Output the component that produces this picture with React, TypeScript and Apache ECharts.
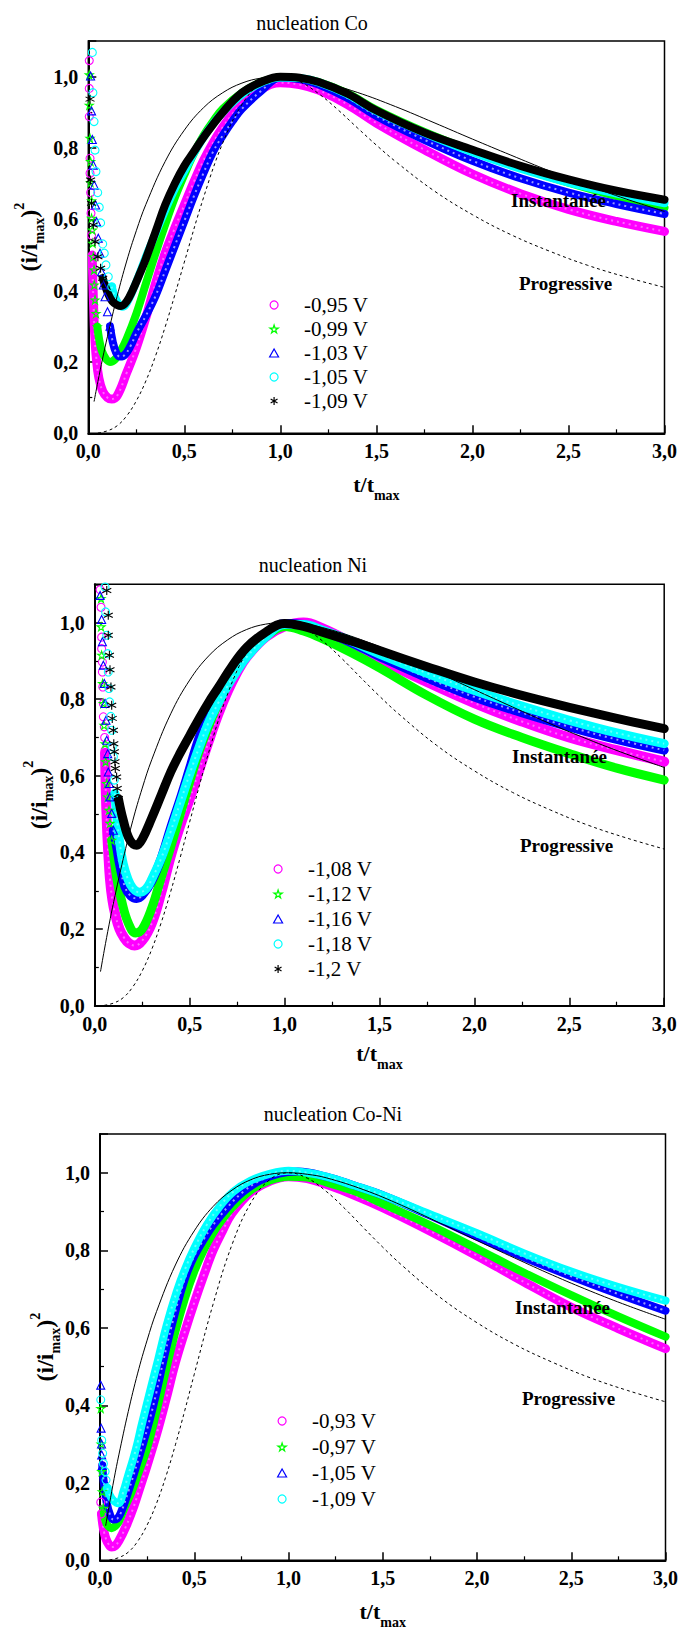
import React, { useEffect, useRef } from 'react';
import * as echarts from 'echarts';

const FONT = 'Liberation Serif';
const FONT_SH = 'Liberation Serif, Times New Roman, serif';

// ---------- tick labels ----------
const xTickValues = [0, 0.5, 1, 1.5, 2, 2.5, 3];
const xTickLabels = ['0,0', '0,5', '1,0', '1,5', '2,0', '2,5', '3,0'];
const yTickValues = [0, 0.2, 0.4, 0.6, 0.8, 1.0];
const yTickLabels = ['0,0', '0,2', '0,4', '0,6', '0,8', '1,0'];

// ---------- panel titles / annotations ----------
const panelTitles = ['nucleation Co', 'nucleation Ni', 'nucleation Co-Ni'];
const modelLabels = ['Instantanée', 'Progressive'];

// ---------- theoretical curves ----------
const instT = [0.03, 0.05, 0.075, 0.1, 0.15, 0.2, 0.25, 0.3, 0.4, 0.5, 0.6, 0.7, 0.8, 0.9, 1.0, 1.1, 1.2, 1.4, 1.6, 1.8, 2.0, 2.2, 2.4, 2.6, 2.8, 3.0];
const instY = [0.089, 0.145, 0.211, 0.272, 0.384, 0.483, 0.568, 0.642, 0.762, 0.85, 0.913, 0.955, 0.982, 0.996, 1.0, 0.996, 0.987, 0.956, 0.916, 0.871, 0.825, 0.78, 0.736, 0.695, 0.657, 0.622];
const progT = [0.05, 0.1, 0.15, 0.2, 0.25, 0.3, 0.35, 0.4, 0.45, 0.5, 0.6, 0.7, 0.8, 0.9, 1.0, 1.1, 1.2, 1.3, 1.4, 1.5, 1.6, 1.8, 2.0, 2.2, 2.4, 2.6, 2.8, 3.0];
const progY = [0.001, 0.007, 0.021, 0.049, 0.091, 0.147, 0.217, 0.298, 0.387, 0.48, 0.661, 0.814, 0.922, 0.982, 1.0, 0.986, 0.952, 0.907, 0.857, 0.808, 0.762, 0.68, 0.613, 0.557, 0.511, 0.471, 0.438, 0.409];

// ---------- Co ----------
const coLegend = ['-0,95 V', '-0,99 V', '-1,03 V', '-1,05 V', '-1,09 V'];
const coMagentaPts = [[0.005, 1.045], [0.005, 0.967], [0.005, 0.888], [0.009, 0.771], [0.009, 0.729], [0.012, 0.675], [0.014, 0.617], [0.017, 0.555]];
const coMagentaBand = [[0.02, 0.5], [0.024, 0.42], [0.028, 0.35], [0.033, 0.28], [0.042, 0.21], [0.055, 0.155], [0.075, 0.118], [0.1, 0.1], [0.122, 0.096], [0.15, 0.105], [0.2, 0.17], [0.25, 0.24], [0.3, 0.325], [0.35, 0.42], [0.4, 0.505], [0.45, 0.575], [0.5, 0.64], [0.55, 0.705], [0.6, 0.765], [0.65, 0.815], [0.7, 0.858], [0.75, 0.895], [0.8, 0.925], [0.9, 0.965], [1.0, 0.983], [1.1, 0.978], [1.2, 0.962], [1.35, 0.922], [1.5, 0.87], [1.75, 0.795], [2.0, 0.727], [2.25, 0.672], [2.5, 0.628], [2.75, 0.594], [3.0, 0.566]];
const coGreenPts = [[0.005, 1.005], [0.005, 0.92], [0.009, 0.827], [0.012, 0.762], [0.012, 0.703], [0.017, 0.652], [0.017, 0.603], [0.021, 0.57], [0.023, 0.533], [0.026, 0.495], [0.03, 0.458], [0.031, 0.416], [0.035, 0.374], [0.04, 0.336], [0.047, 0.299]];
const coGreenBand = [[0.047, 0.299], [0.057, 0.262], [0.07, 0.232], [0.09, 0.21], [0.113, 0.2], [0.14, 0.208], [0.17, 0.232], [0.2, 0.265], [0.25, 0.335], [0.3, 0.42], [0.35, 0.505], [0.4, 0.585], [0.45, 0.66], [0.5, 0.725], [0.55, 0.785], [0.6, 0.835], [0.65, 0.875], [0.7, 0.91], [0.8, 0.955], [0.9, 0.985], [1.0, 0.998], [1.1, 0.995], [1.2, 0.985], [1.35, 0.953], [1.5, 0.907], [1.75, 0.845], [2.0, 0.792], [2.25, 0.745], [2.5, 0.703], [2.75, 0.665], [3.0, 0.632]];
const coBluePts = [[0.012, 1.002], [0.017, 0.904], [0.021, 0.824], [0.026, 0.752], [0.031, 0.696], [0.038, 0.64], [0.043, 0.593], [0.052, 0.547], [0.061, 0.505], [0.069, 0.453], [0.078, 0.416], [0.087, 0.383], [0.1, 0.341], [0.113, 0.3]];
const coBlueBand = [[0.113, 0.3], [0.127, 0.257], [0.145, 0.226], [0.165, 0.215], [0.19, 0.22], [0.22, 0.245], [0.25, 0.28], [0.3, 0.33], [0.35, 0.385], [0.4, 0.455], [0.45, 0.525], [0.5, 0.595], [0.55, 0.665], [0.6, 0.73], [0.65, 0.79], [0.7, 0.835], [0.75, 0.875], [0.8, 0.91], [0.9, 0.96], [1.0, 0.998], [1.1, 0.993], [1.2, 0.978], [1.35, 0.94], [1.5, 0.89], [1.75, 0.823], [2.0, 0.764], [2.25, 0.715], [2.5, 0.675], [2.75, 0.643], [3.0, 0.615]];
const coCyanPts = [[0.021, 1.068], [0.024, 0.955], [0.03, 0.874], [0.035, 0.794], [0.04, 0.734], [0.049, 0.675], [0.057, 0.634], [0.064, 0.59], [0.075, 0.531], [0.083, 0.505], [0.092, 0.472], [0.104, 0.439], [0.122, 0.411]];
const coCyanBand = [[0.122, 0.411], [0.135, 0.388], [0.155, 0.365], [0.175, 0.355], [0.2, 0.365], [0.25, 0.425], [0.3, 0.495], [0.35, 0.56], [0.4, 0.625], [0.45, 0.685], [0.5, 0.735], [0.55, 0.785], [0.6, 0.83], [0.65, 0.868], [0.7, 0.9], [0.8, 0.95], [0.9, 0.983], [1.0, 0.998], [1.1, 0.996], [1.2, 0.984], [1.35, 0.95], [1.5, 0.903], [1.75, 0.842], [2.0, 0.788], [2.25, 0.742], [2.5, 0.703], [2.75, 0.672], [3.0, 0.645]];
const coBlackPts = [[0.009, 0.937], [0.012, 0.71], [0.017, 0.645], [0.026, 0.584], [0.035, 0.537], [0.05, 0.495], [0.064, 0.463], [0.075, 0.435]];
const coBlackBand = [[0.075, 0.435], [0.1, 0.395], [0.125, 0.37], [0.15, 0.36], [0.17, 0.357], [0.2, 0.37], [0.23, 0.4], [0.27, 0.45], [0.3, 0.49], [0.35, 0.565], [0.4, 0.64], [0.45, 0.7], [0.5, 0.75], [0.55, 0.79], [0.6, 0.83], [0.7, 0.9], [0.8, 0.955], [0.9, 0.985], [1.0, 1.0], [1.1, 0.997], [1.2, 0.985], [1.35, 0.952], [1.5, 0.905], [1.75, 0.843], [2.0, 0.795], [2.25, 0.75], [2.5, 0.712], [2.75, 0.68], [3.0, 0.655]];

// ---------- Ni ----------
const niLegend = ['-1,08 V', '-1,12 V', '-1,16 V', '-1,18 V', '-1,2 V'];
const niMagentaPts = [[0.028, 1.086], [0.033, 1.04], [0.036, 0.962], [0.036, 0.932], [0.04, 0.897], [0.04, 0.871], [0.042, 0.832], [0.045, 0.789], [0.045, 0.754], [0.05, 0.728], [0.052, 0.7], [0.054, 0.667]];
const niMagentaBand = [[0.054, 0.66], [0.058, 0.56], [0.064, 0.47], [0.071, 0.4], [0.08, 0.33], [0.093, 0.275], [0.107, 0.24], [0.13, 0.2], [0.155, 0.177], [0.18, 0.163], [0.21, 0.157], [0.25, 0.17], [0.3, 0.215], [0.35, 0.295], [0.4, 0.39], [0.45, 0.47], [0.5, 0.54], [0.55, 0.615], [0.6, 0.69], [0.65, 0.76], [0.7, 0.82], [0.75, 0.87], [0.8, 0.91], [0.9, 0.962], [1.0, 0.99], [1.1, 1.0], [1.2, 0.985], [1.35, 0.948], [1.5, 0.905], [1.75, 0.845], [2.0, 0.79], [2.25, 0.742], [2.5, 0.7], [2.75, 0.667], [3.0, 0.637]];
const niGreenPts = [[0.033, 1.063], [0.033, 0.989], [0.036, 0.915], [0.041, 0.841], [0.045, 0.789], [0.049, 0.732], [0.054, 0.684], [0.057, 0.637], [0.063, 0.58], [0.068, 0.545], [0.075, 0.51], [0.08, 0.476], [0.089, 0.432]];
const niGreenBand = [[0.089, 0.432], [0.103, 0.38], [0.115, 0.335], [0.14, 0.276], [0.177, 0.215], [0.215, 0.19], [0.25, 0.2], [0.3, 0.255], [0.35, 0.335], [0.4, 0.415], [0.45, 0.5], [0.5, 0.585], [0.55, 0.665], [0.6, 0.73], [0.65, 0.79], [0.7, 0.84], [0.75, 0.88], [0.8, 0.915], [0.9, 0.963], [1.0, 0.99], [1.1, 0.978], [1.2, 0.958], [1.35, 0.922], [1.5, 0.882], [1.75, 0.81], [2.0, 0.748], [2.25, 0.7], [2.5, 0.658], [2.75, 0.62], [3.0, 0.589]];
const niBluePts = [[0.028, 1.071], [0.036, 1.008], [0.04, 0.95], [0.045, 0.889], [0.05, 0.841], [0.054, 0.789], [0.059, 0.745], [0.063, 0.693], [0.068, 0.658], [0.071, 0.61], [0.077, 0.58], [0.08, 0.545], [0.089, 0.502], [0.098, 0.458]];
const niBlueBand = [[0.098, 0.458], [0.115, 0.415], [0.133, 0.363], [0.159, 0.31], [0.19, 0.286], [0.22, 0.28], [0.25, 0.288], [0.3, 0.325], [0.35, 0.385], [0.4, 0.465], [0.45, 0.54], [0.5, 0.62], [0.55, 0.7], [0.6, 0.76], [0.65, 0.81], [0.7, 0.855], [0.75, 0.892], [0.8, 0.922], [0.9, 0.968], [1.0, 0.998], [1.1, 0.995], [1.2, 0.978], [1.35, 0.948], [1.5, 0.912], [1.75, 0.856], [2.0, 0.806], [2.25, 0.765], [2.5, 0.728], [2.75, 0.695], [3.0, 0.667]];
const niCyanPts = [[0.054, 1.093], [0.057, 1.028], [0.063, 0.967], [0.068, 0.919], [0.071, 0.871], [0.075, 0.828], [0.078, 0.793], [0.084, 0.755], [0.089, 0.719], [0.092, 0.676], [0.098, 0.65], [0.103, 0.589], [0.106, 0.554]];
const niCyanBand = [[0.106, 0.554], [0.115, 0.5], [0.13, 0.43], [0.15, 0.37], [0.175, 0.33], [0.2, 0.307], [0.235, 0.296], [0.27, 0.305], [0.3, 0.33], [0.35, 0.385], [0.4, 0.455], [0.45, 0.53], [0.5, 0.605], [0.55, 0.675], [0.6, 0.74], [0.65, 0.79], [0.7, 0.835], [0.75, 0.875], [0.8, 0.91], [0.9, 0.962], [1.0, 0.995], [1.1, 0.995], [1.2, 0.98], [1.35, 0.952], [1.5, 0.918], [1.75, 0.868], [2.0, 0.823], [2.25, 0.782], [2.5, 0.745], [2.75, 0.712], [3.0, 0.684]];
const niBlackPts = [[0.063, 1.084], [0.071, 1.019], [0.071, 0.967], [0.077, 0.915], [0.08, 0.877], [0.085, 0.832], [0.089, 0.784], [0.092, 0.75], [0.098, 0.719], [0.1, 0.684], [0.103, 0.663], [0.106, 0.637], [0.108, 0.619], [0.115, 0.597], [0.118, 0.567], [0.124, 0.541]];
const niBlackBand = [[0.124, 0.541], [0.15, 0.484], [0.185, 0.432], [0.221, 0.419], [0.25, 0.435], [0.3, 0.49], [0.35, 0.55], [0.4, 0.61], [0.45, 0.66], [0.5, 0.705], [0.55, 0.75], [0.6, 0.792], [0.65, 0.83], [0.72, 0.884], [0.8, 0.935], [0.9, 0.975], [1.0, 0.998], [1.1, 0.99], [1.2, 0.975], [1.35, 0.952], [1.5, 0.927], [1.75, 0.885], [2.0, 0.845], [2.25, 0.81], [2.5, 0.779], [2.75, 0.75], [3.0, 0.723]];

// ---------- Co-Ni ----------
const cnLegend = ['-0,93 V', '-0,97 V', '-1,05 V', '-1,09 V'];
const cnMagentaPts = [[0.004, 0.15], [0.008, 0.12]];
const cnMagentaBand = [[0.008, 0.12], [0.014, 0.095], [0.022, 0.072], [0.032, 0.055], [0.045, 0.042], [0.062, 0.034], [0.08, 0.037], [0.1, 0.05], [0.14, 0.09], [0.18, 0.14], [0.21, 0.185], [0.25, 0.245], [0.3, 0.325], [0.35, 0.415], [0.4, 0.51], [0.45, 0.59], [0.5, 0.665], [0.55, 0.735], [0.6, 0.8], [0.65, 0.85], [0.7, 0.895], [0.8, 0.95], [0.9, 0.978], [1.0, 0.99], [1.1, 0.985], [1.2, 0.97], [1.35, 0.942], [1.5, 0.91], [1.75, 0.85], [2.0, 0.786], [2.25, 0.718], [2.5, 0.653], [2.75, 0.598], [3.0, 0.546]];
const cnGreenPts = [[0.004, 0.392], [0.006, 0.3], [0.009, 0.229], [0.012, 0.177], [0.018, 0.134]];
const cnGreenBand = [[0.018, 0.134], [0.027, 0.105], [0.04, 0.09], [0.062, 0.083], [0.08, 0.088], [0.1, 0.1], [0.13, 0.135], [0.168, 0.177], [0.2, 0.22], [0.25, 0.29], [0.3, 0.385], [0.35, 0.49], [0.4, 0.59], [0.45, 0.675], [0.5, 0.745], [0.55, 0.8], [0.6, 0.845], [0.65, 0.88], [0.7, 0.91], [0.8, 0.955], [0.9, 0.98], [1.0, 0.99], [1.1, 0.988], [1.2, 0.975], [1.35, 0.952], [1.5, 0.92], [1.75, 0.865], [2.0, 0.804], [2.25, 0.742], [2.5, 0.684], [2.75, 0.629], [3.0, 0.577]];
const cnBluePts = [[0.004, 0.452], [0.006, 0.341], [0.008, 0.3], [0.009, 0.272], [0.012, 0.245]];
const cnBlueBand = [[0.012, 0.245], [0.018, 0.21], [0.027, 0.177], [0.035, 0.15], [0.05, 0.122], [0.071, 0.105], [0.09, 0.107], [0.11, 0.122], [0.15, 0.177], [0.2, 0.255], [0.256, 0.349], [0.3, 0.435], [0.336, 0.515], [0.38, 0.605], [0.424, 0.685], [0.46, 0.74], [0.5, 0.785], [0.55, 0.828], [0.6, 0.865], [0.68, 0.913], [0.76, 0.951], [0.85, 0.98], [0.95, 0.998], [1.05, 1.003], [1.2, 0.99], [1.35, 0.967], [1.5, 0.942], [1.75, 0.89], [2.0, 0.835], [2.25, 0.782], [2.5, 0.733], [2.75, 0.687], [3.0, 0.644]];
const cnCyanPts = [[0.004, 0.414], [0.009, 0.31], [0.014, 0.276], [0.018, 0.25], [0.027, 0.229], [0.032, 0.207], [0.039, 0.186]];
const cnCyanBand = [[0.039, 0.186], [0.05, 0.17], [0.07, 0.155], [0.097, 0.147], [0.124, 0.177], [0.15, 0.22], [0.177, 0.263], [0.2, 0.305], [0.221, 0.349], [0.265, 0.435], [0.31, 0.521], [0.354, 0.607], [0.407, 0.693], [0.45, 0.75], [0.5, 0.805], [0.566, 0.865], [0.63, 0.91], [0.707, 0.951], [0.8, 0.98], [0.9, 0.997], [1.0, 1.005], [1.1, 1.0], [1.2, 0.99], [1.35, 0.967], [1.5, 0.942], [1.75, 0.893], [2.0, 0.844], [2.25, 0.792], [2.5, 0.745], [2.75, 0.705], [3.0, 0.67]];

// ---------- styles ----------
const MAGENTA = '#ff00ff';
const GREEN = '#00ff00';
const BLUE = '#0000ff';
const CYAN = '#00ffff';
const BLACK = '#000000';
const SYM_CIRCLE = 'circle';
const SYM_TRI = 'path://M50,6L96,88L4,88Z';
const SYM_STAR = 'path://M50,2L61,37L98,37L68,59L79,94L50,72L21,94L32,59L2,37L39,37Z';
const SYM_AST = 'path://M50,0L50,100M7,25L93,75M7,75L93,25';

const zip = (xs: number[], ys: number[]) => xs.map((x, i) => [x, ys[i]]);

type Spec = { label: string; color: string; symbol: string; pts: number[][]; band: number[][] };

const panels = [
  {
    grid: { left: 88.3, top: 41, width: 576.2, height: 392.3 },
    legend: { left: 269, top: 293, lh: 24 },
    xGap: 33, yGap: 42, bandW: 8,
    title: { x: 312, y: 23 },
    inst: { x: 511, y: 200 }, prog: { x: 519, y: 283 },
    specs: [
      { label: coLegend[0], color: MAGENTA, symbol: SYM_CIRCLE, pts: coMagentaPts, band: coMagentaBand },
      { label: coLegend[1], color: GREEN, symbol: SYM_STAR, pts: coGreenPts, band: coGreenBand },
      { label: coLegend[2], color: BLUE, symbol: SYM_TRI, pts: coBluePts, band: coBlueBand },
      { label: coLegend[3], color: CYAN, symbol: SYM_CIRCLE, pts: coCyanPts, band: coCyanBand },
      { label: coLegend[4], color: BLACK, symbol: SYM_AST, pts: coBlackPts, band: coBlackBand },
    ] as Spec[],
  },
  {
    grid: { left: 94.8, top: 584.3, width: 569.4, height: 421.4 },
    legend: { left: 273, top: 856.5, lh: 25 },
    xGap: 30, yGap: 39, bandW: 9,
    title: { x: 313, y: 565 },
    inst: { x: 512, y: 756 }, prog: { x: 520, y: 845 },
    specs: [
      { label: niLegend[0], color: MAGENTA, symbol: SYM_CIRCLE, pts: niMagentaPts, band: niMagentaBand },
      { label: niLegend[1], color: GREEN, symbol: SYM_STAR, pts: niGreenPts, band: niGreenBand },
      { label: niLegend[2], color: BLUE, symbol: SYM_TRI, pts: niBluePts, band: niBlueBand },
      { label: niLegend[3], color: CYAN, symbol: SYM_CIRCLE, pts: niCyanPts, band: niCyanBand },
      { label: niLegend[4], color: BLACK, symbol: SYM_AST, pts: niBlackPts, band: niBlackBand },
    ] as Spec[],
  },
  {
    grid: { left: 100, top: 1134, width: 565.5, height: 426.3 },
    legend: { left: 277, top: 1408, lh: 26 },
    xGap: 33, yGap: 38, bandW: 8,
    title: { x: 333, y: 1114 },
    inst: { x: 515, y: 1307 }, prog: { x: 522, y: 1398 },
    specs: [
      { label: cnLegend[0], color: MAGENTA, symbol: SYM_CIRCLE, pts: cnMagentaPts, band: cnMagentaBand },
      { label: cnLegend[1], color: GREEN, symbol: SYM_STAR, pts: cnGreenPts, band: cnGreenBand },
      { label: cnLegend[2], color: BLUE, symbol: SYM_TRI, pts: cnBluePts, band: cnBlueBand },
      { label: cnLegend[3], color: CYAN, symbol: SYM_CIRCLE, pts: cnCyanPts, band: cnCyanBand },
    ] as Spec[],
  },
];

const fmtX = (v: number) => {
  const i = xTickValues.findIndex((t) => Math.abs(t - v) < 1e-6);
  return i >= 0 ? xTickLabels[i] : '';
};
const fmtY = (v: number) => {
  const i = yTickValues.findIndex((t) => Math.abs(t - v) < 1e-6);
  return i >= 0 ? yTickLabels[i] : '';
};

function buildOption() {
  const grid: any[] = [];
  const xAxis: any[] = [];
  const yAxis: any[] = [];
  const legend: any[] = [];
  const series: any[] = [];
  const graphic: any[] = [];

  panels.forEach((p, g) => {
    grid.push({ ...p.grid, show: true, borderColor: '#000', borderWidth: 1.5, backgroundColor: 'transparent', containLabel: false, outerBoundsMode: 'none' });
    const common = {
      gridIndex: g,
      type: 'value',
      axisLine: { show: true, onZero: false, lineStyle: { color: '#000', width: 2 } },
      axisTick: { show: true, inside: true, length: 8, lineStyle: { color: '#000', width: 1.5 } },
      minorTick: { show: true, splitNumber: 2, length: 4, lineStyle: { color: '#000', width: 1.2 } },
      splitLine: { show: false },
      minorSplitLine: { show: false },
      nameMoveOverlap: false,
    };
    xAxis.push({
      ...common,
      min: 0, max: 3, interval: 0.5,
      axisLabel: { formatter: fmtX, color: '#000', fontFamily: FONT, fontWeight: 'bold', fontSize: 20, margin: 8, showMinLabel: true, showMaxLabel: true },
      name: '{a|t/t}{s|max}',
      nameLocation: 'middle',
      nameGap: p.xGap,
      nameTextStyle: {
        fontFamily: FONT,
        rich: {
          a: { fontFamily: FONT, fontSize: 22, fontWeight: 'bold', color: '#000', lineHeight: 36 },
          s: { fontFamily: FONT, fontSize: 14, fontWeight: 'bold', color: '#000', lineHeight: 14, verticalAlign: 'bottom' },
        },
      },
    });
    yAxis.push({
      ...common,
      min: 0, max: 1.1, interval: 0.2,
      axisLabel: { formatter: fmtY, color: '#000', fontFamily: FONT, fontWeight: 'bold', fontSize: 20, margin: 10 },
      name: '{a|(i/i}{s|max}{a|)}{p|2}',
      nameLocation: 'middle',
      nameRotate: 90,
      nameGap: p.yGap,
      nameTextStyle: {
        fontFamily: FONT,
        rich: {
          a: { fontFamily: FONT, fontSize: 24, fontWeight: 'bold', color: '#000', lineHeight: 34 },
          s: { fontFamily: FONT, fontSize: 14, fontWeight: 'bold', color: '#000', lineHeight: 14, verticalAlign: 'bottom' },
          p: { fontFamily: FONT, fontSize: 14, fontWeight: 'bold', color: '#000', lineHeight: 14, verticalAlign: 'top' },
        },
      },
    });

    const prefix = `p${g + 1}_`;
    legend.push({
      orient: 'vertical',
      left: p.legend.left,
      top: p.legend.top,
      itemWidth: 50,
      itemHeight: 8,
      itemGap: 0,
      padding: 0,
      selectedMode: false,
      symbolKeepAspect: true,
      formatter: (name: string) => name.slice(prefix.length),
      textStyle: { fontFamily: FONT, fontSize: 21, color: '#000', lineHeight: p.legend.lh },
      data: p.specs.map((s) => ({
        name: prefix + s.label,
        icon: s.symbol,
        itemStyle: { color: 'rgba(0,0,0,0)', borderColor: s.color, borderWidth: 1.2 },
      })),
    });

    p.specs.forEach((s) => {
      const name = prefix + s.label;
      const w = s.color === MAGENTA ? p.bandW + 1 : p.bandW;
      series.push({
        type: 'scatter',
        name,
        xAxisIndex: g,
        yAxisIndex: g,
        data: s.pts,
        symbol: s.symbol,
        symbolSize: s.symbol === SYM_AST ? 9 : 8,
        itemStyle: { color: 'rgba(0,0,0,0)', borderColor: s.color, borderWidth: 1.1, opacity: 1 },
        silent: true,
        z: 2,
      });
      series.push({
        type: 'line',
        name,
        xAxisIndex: g,
        yAxisIndex: g,
        data: s.band,
        smooth: 0.4,
        showSymbol: false,
        symbol: 'none',
        lineStyle: { color: s.color, width: w, cap: 'round', join: 'round' },
        silent: true,
        z: 2,
      });
      // hollow-marker texture of the dense band (same data)
      if (s.symbol === SYM_CIRCLE || s.symbol === SYM_TRI) {
        series.push({
          type: 'line',
          name: name + '_tex',
          xAxisIndex: g,
          yAxisIndex: g,
          data: s.band,
          smooth: 0.4,
          showSymbol: false,
          symbol: 'none',
          lineStyle: { color: '#ffffff', width: 2, opacity: s.symbol === SYM_TRI ? 0.6 : 0.4, type: [2, 4] },
          silent: true,
          z: 2,
        });
      }
    });

    series.push({
      type: 'line', name: `inst${g}`, xAxisIndex: g, yAxisIndex: g,
      data: zip(instT, instY), smooth: 0.4, showSymbol: false, symbol: 'none',
      lineStyle: { color: '#000', width: 1 }, silent: true, z: 4,
    });
    series.push({
      type: 'line', name: `prog${g}`, xAxisIndex: g, yAxisIndex: g,
      data: zip(progT, progY), smooth: 0.4, showSymbol: false, symbol: 'none',
      lineStyle: { color: '#000', width: 1, type: [3, 3] }, silent: true, z: 4,
    });

    graphic.push({
      type: 'text', x: p.title.x, y: p.title.y, silent: true,
      style: { text: panelTitles[g], fill: '#000', font: `20px ${FONT_SH}`, textAlign: 'center', textVerticalAlign: 'middle' },
    });
    graphic.push({
      type: 'text', x: p.inst.x, y: p.inst.y, silent: true, z: 10,
      style: { text: modelLabels[0], fill: '#000', font: `bold 19px ${FONT_SH}`, textAlign: 'left', textVerticalAlign: 'middle' },
    });
    graphic.push({
      type: 'text', x: p.prog.x, y: p.prog.y, silent: true, z: 10,
      style: { text: modelLabels[1], fill: '#000', font: `bold 19px ${FONT_SH}`, textAlign: 'left', textVerticalAlign: 'middle' },
    });
  });

  return {
    animation: false,
    backgroundColor: '#ffffff',
    textStyle: { fontFamily: FONT },
    grid, xAxis, yAxis, legend, series, graphic,
  };
}

export default function App() {
  const ref = useRef<HTMLDivElement>(null);
  useEffect(() => {
    if (!ref.current) return;
    const chart = echarts.init(ref.current, null, { renderer: 'svg' });
    chart.setOption(buildOption() as any);
    return () => chart.dispose();
  }, []);
  return (
    <div
      ref={ref}
      style={{ position: 'absolute', left: 0, top: 0, width: 682, height: 1631, background: '#fff' }}
    />
  );
}
